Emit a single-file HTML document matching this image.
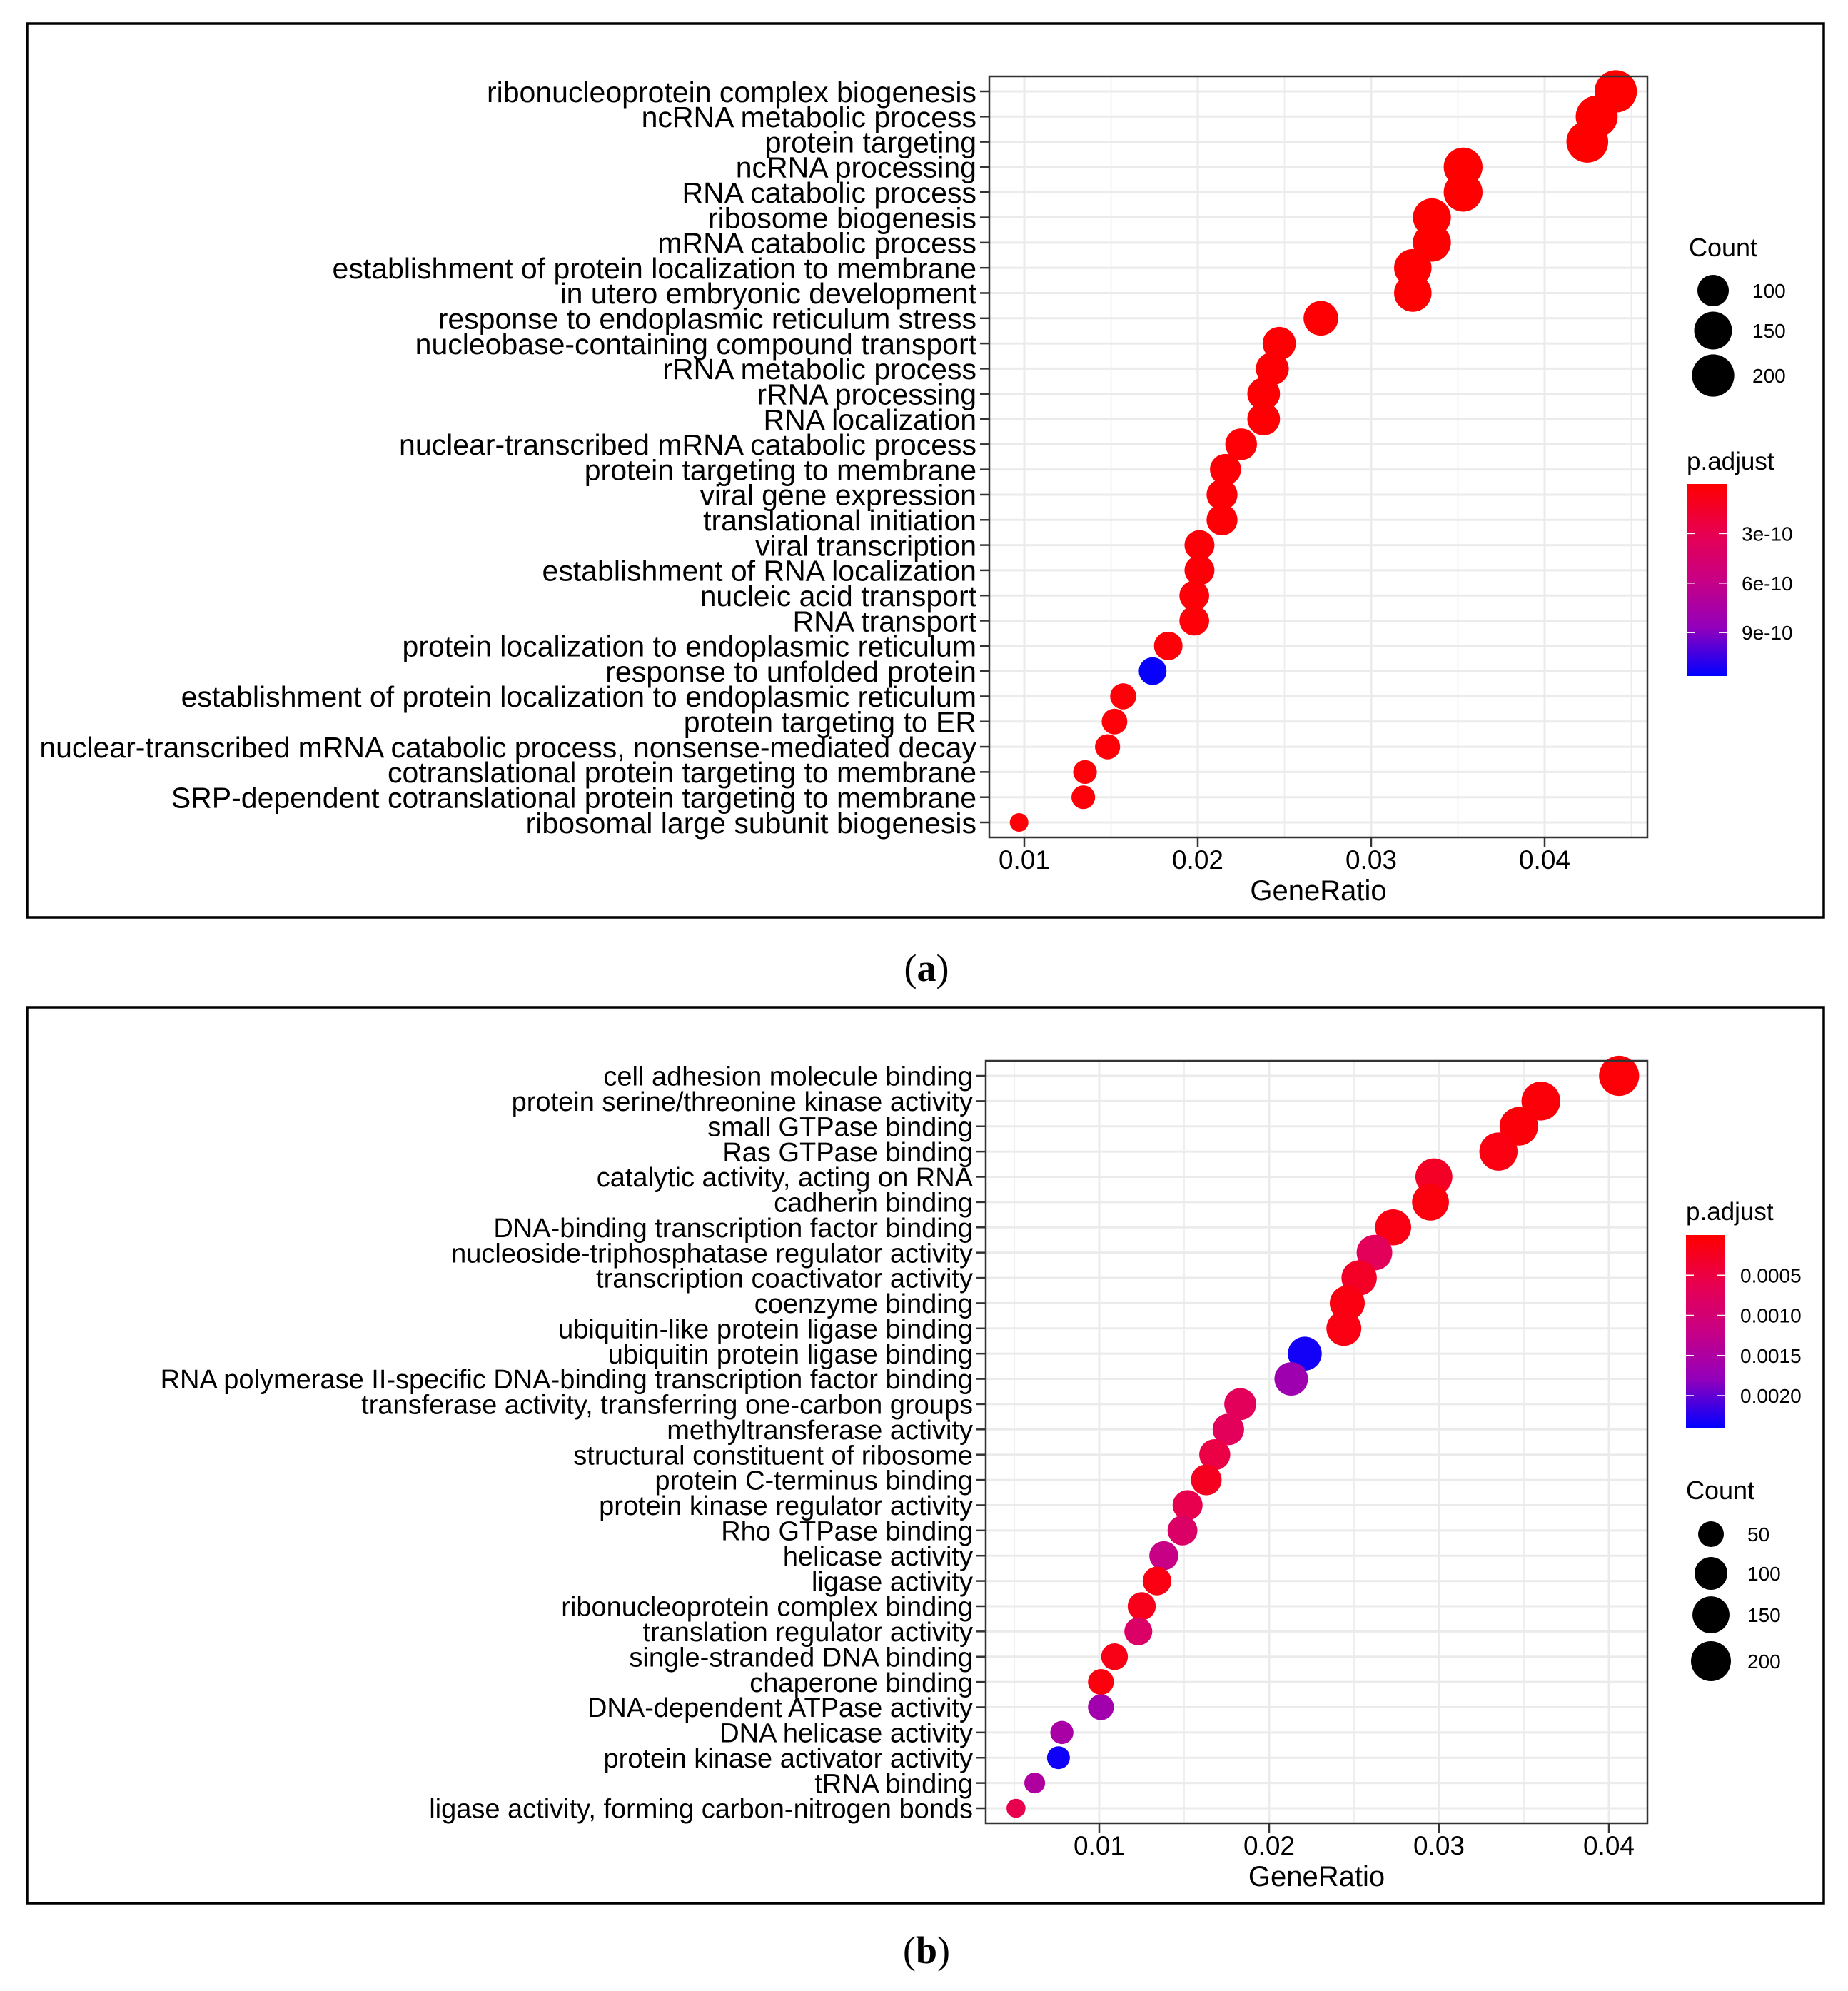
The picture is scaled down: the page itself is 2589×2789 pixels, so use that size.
<!DOCTYPE html>
<html><head><meta charset="utf-8"><style>
html,body{margin:0;padding:0;background:#fff;}
svg{display:block;font-family:"Liberation Sans",Arial,sans-serif;}
</style></head><body>
<svg id="fig" xmlns="http://www.w3.org/2000/svg" width="2589" height="2789" viewBox="0 0 2589 2789">
<rect x="0" y="0" width="2589" height="2789" fill="#fff"/>
<rect x="38" y="33" width="2517" height="1252" fill="none" stroke="#000" stroke-width="3.5"/>
<rect x="38" y="1411" width="2517" height="1255" fill="none" stroke="#000" stroke-width="3.5"/>
<text x="1298" y="1374" text-anchor="middle" font-family="Liberation Serif, serif" font-size="54">(<tspan font-weight="bold">a</tspan>)</text>
<text x="1298" y="2750" text-anchor="middle" font-family="Liberation Serif, serif" font-size="54">(<tspan font-weight="bold">b</tspan>)</text>
<g id="chartA"></g>
<g id="chartB"></g>
</svg>
<script>
// ---------- Panel A data ----------
const termsA = ["ribonucleoprotein complex biogenesis","ncRNA metabolic process","protein targeting","ncRNA processing","RNA catabolic process","ribosome biogenesis","mRNA catabolic process","establishment of protein localization to membrane","in utero embryonic development","response to endoplasmic reticulum stress","nucleobase-containing compound transport","rRNA metabolic process","rRNA processing","RNA localization","nuclear-transcribed mRNA catabolic process","protein targeting to membrane","viral gene expression","translational initiation","viral transcription","establishment of RNA localization","nucleic acid transport","RNA transport","protein localization to endoplasmic reticulum","response to unfolded protein","establishment of protein localization to endoplasmic reticulum","protein targeting to ER","nuclear-transcribed mRNA catabolic process, nonsense-mediated decay","cotranslational protein targeting to membrane","SRP-dependent cotranslational protein targeting to membrane","ribosomal large subunit biogenesis"];
const ratioA = [0.0441,0.0430,0.04246,0.0353,0.0353,0.0335,0.0335,0.0324,0.0324,0.0271,0.0247,0.0243,0.0238,0.0238,0.0225,0.0216,0.0214,0.0214,0.0201,0.0201,0.0198,0.0198,0.0183,0.0174,0.0157,0.0152,0.0148,0.0135,0.0134,0.0097];
const countA = [200,195,193,160,160,152,152,147,147,123,112,110,108,108,102,98,97,97,91,91,90,90,83,79,71,69,67,61,61,44];
const padjA = [1e-12,2e-12,3e-12,2e-12,3e-12,4e-12,5e-12,6e-12,8e-12,1e-11,1.2e-11,1.5e-11,1.5e-11,1.6e-11,1.8e-11,2e-11,2e-11,2e-11,2.5e-11,2.5e-11,3e-11,3e-11,3e-11,1.15e-9,3e-11,3e-11,3e-11,3e-11,3e-11,3e-11];
const xTicksA = [0.01,0.02,0.03,0.04];
const xMinorA = [0.015,0.025,0.035,0.045];
const xTickLabelsA = ["0.01","0.02","0.03","0.04"];
const sizeLegendA = [100,150,200];
const colorTicksA = [3e-10,6e-10,9e-10];
const colorTickLabelsA = ["3e-10","6e-10","9e-10"];

// ---------- Panel B data ----------
const termsB = ["cell adhesion molecule binding","protein serine/threonine kinase activity","small GTPase binding","Ras GTPase binding","catalytic activity, acting on RNA","cadherin binding","DNA-binding transcription factor binding","nucleoside-triphosphatase regulator activity","transcription coactivator activity","coenzyme binding","ubiquitin-like protein ligase binding","ubiquitin protein ligase binding","RNA polymerase II-specific DNA-binding transcription factor binding","transferase activity, transferring one-carbon groups","methyltransferase activity","structural constituent of ribosome","protein C-terminus binding","protein kinase regulator activity","Rho GTPase binding","helicase activity","ligase activity","ribonucleoprotein complex binding","translation regulator activity","single-stranded DNA binding","chaperone binding","DNA-dependent ATPase activity","DNA helicase activity","protein kinase activator activity","tRNA binding","ligase activity, forming carbon-nitrogen bonds"];
const ratioB = [0.0406,0.0360,0.0347,0.0335,0.0297,0.0295,0.0273,0.0262,0.0253,0.0246,0.0244,0.0221,0.0213,0.0183,0.0176,0.0168,0.0163,0.0152,0.0149,0.0138,0.0134,0.0125,0.0123,0.0109,0.0101,0.0101,0.0078,0.0076,0.0062,0.0051];
const countB = [203,180,174,168,149,148,137,131,127,123,122,111,107,92,88,84,82,76,75,69,67,63,62,55,51,51,39,38,31,26];
const padjB = [0.00005,0.00007,0.00007,0.00012,0.00029,0.0001,0.00014,0.00072,0.00029,0.00012,0.00014,0.00232,0.00167,0.00072,0.00072,0.00053,0.00024,0.0006,0.00084,0.0012,0.00014,0.00019,0.00084,0.00017,0.0001,0.00163,0.00155,0.00234,0.00148,0.0006];
const xTicksB = [0.01,0.02,0.03,0.04];
const xMinorB = [0.005,0.015,0.025,0.035];
const xTickLabelsB = ["0.01","0.02","0.03","0.04"];
const sizeLegendB = [50,100,150,200];
const colorTicksB = [0.0005,0.0010,0.0015,0.0020];
const colorTickLabelsB = ["0.0005","0.0010","0.0015","0.0020"];

const NS = "http://www.w3.org/2000/svg";
function mk(parent, tag, attrs, text){
  const e = document.createElementNS(NS, tag);
  for (const k in attrs) e.setAttribute(k, attrs[k]);
  if (text !== undefined) e.textContent = text;
  parent.appendChild(e);
  return e;
}
const stops = [[0,[255,0,0]],[0.25,[232,0,79]],[0.5,[200,0,133]],[0.75,[146,0,188]],[1,[0,0,255]]];
function colorAt(t){
  t = Math.max(0, Math.min(1, t));
  for (let i=0;i<stops.length-1;i++){
    const a=stops[i], b=stops[i+1];
    if (t<=b[0]){
      const f=(t-a[0])/(b[0]-a[0]);
      const c=a[1].map((v,j)=>Math.round(v+(b[1][j]-v)*f));
      return "rgb("+c.join(",")+")";
    }
  }
  return "rgb(0,0,255)";
}

function drawChart(g, cfg){
  const {terms, ratio, count, padj, xTicks, xMinor, xLabels, plot, xAt, sizeFn, pMax} = cfg;
  const n = terms.length;
  const step = (plot.b - plot.t - 42) / (n - 1);
  const yAt = i => plot.t + 21 + i * step;
  const xs = v => plot.l + (v - xAt.v0) * xAt.k;

  const bg = mk(g, "rect", {x:plot.l, y:plot.t, width:plot.r-plot.l, height:plot.b-plot.t, fill:"#fff"});
  
  

  xMinor.forEach(v => {
    const l = mk(g, "line", {x1:xs(v), x2:xs(v), y1:plot.t, y2:plot.b, stroke:"#ebebeb", "stroke-width":1.6});
    
    
  });
  xTicks.forEach(v => {
    const l = mk(g, "line", {x1:xs(v), x2:xs(v), y1:plot.t, y2:plot.b, stroke:"#ebebeb", "stroke-width":3});
    
    
  });
  terms.forEach((t, i) => {
    const l = mk(g, "line", {x1:plot.l, x2:plot.r, y1:yAt(i), y2:yAt(i), stroke:"#ebebeb", "stroke-width":3});
    
    
  });

  terms.forEach((t, i) => {
    const c = mk(g, "circle", {cx:xs(ratio[i]), cy:yAt(i), r:sizeFn(count[i]), fill:colorAt(padj[i]/pMax)});
    
    
  });

  const fr = mk(g, "rect", {x:plot.l, y:plot.t, width:plot.r-plot.l, height:plot.b-plot.t, fill:"none", stroke:"#333", "stroke-width":2.5});
  
  

  terms.forEach((t, i) => {
    const tk = mk(g, "line", {x1:plot.l-13, x2:plot.l, y1:yAt(i), y2:yAt(i), stroke:"#333", "stroke-width":2.5});
    
    
    const tx = mk(g, "text", {x:plot.l-18, y:yAt(i), dy:"0.36em", "text-anchor":"end", "font-size":cfg.yFont, fill:"#000"}, t);
    
    
  });
  xTicks.forEach((v, i) => {
    const tk = mk(g, "line", {x1:xs(v), x2:xs(v), y1:plot.b, y2:plot.b+13, stroke:"#333", "stroke-width":2.5});
    
    
    const tx = mk(g, "text", {x:xs(v), y:plot.b+44, "text-anchor":"middle", "font-size":37, fill:"#000"}, xLabels[i]);
    
    
  });
  const xt = mk(g, "text", {x:(plot.l+plot.r)/2, y:plot.b+88, "text-anchor":"middle", "font-size":40, fill:"#000"}, "GeneRatio");
  
  
}

function drawSizeLegend(g, cfg){
  const t = mk(g, "text", {x:cfg.x, y:cfg.titleY, "font-size":36, fill:"#000"}, "Count");
  
  
  cfg.values.forEach((v, i) => {
    const c = mk(g, "circle", {cx:cfg.cx, cy:cfg.ys[i], r:cfg.sizeFn(v), fill:"#000"});
    
    
    const tx = mk(g, "text", {x:cfg.labelX, y:cfg.ys[i], dy:"0.36em", "font-size":28, fill:"#000"}, String(v));
    
    
  });
}

function drawColorLegend(g, cfg, id){
  const t = mk(g, "text", {x:cfg.x, y:cfg.titleY, "font-size":35, fill:"#000"}, "p.adjust");
  
  
  const defs = mk(g, "defs", {});
  const lg = mk(defs, "linearGradient", {id:id, x1:0, y1:0, x2:0, y2:1});
  const tEnd = cfg.pBottom / cfg.pMax;
  for (let k=0;k<=20;k++){
    const f = k/20;
    mk(lg, "stop", {offset:f, "stop-color":colorAt(f*tEnd)});
  }
  const bar = mk(g, "rect", {x:cfg.x, y:cfg.top, width:cfg.w, height:cfg.bottom-cfg.top, fill:"url(#"+id+")"});
  
  
  const ys = v => cfg.top + (v / cfg.pBottom) * (cfg.bottom - cfg.top);
  cfg.ticks.forEach((v, i) => {
    const y = ys(v);
    const a = mk(g, "line", {x1:cfg.x, x2:cfg.x+11, y1:y, y2:y, stroke:"#fff", "stroke-width":1.5});
    
    
    const b = mk(g, "line", {x1:cfg.x+cfg.w-11, x2:cfg.x+cfg.w, y1:y, y2:y, stroke:"#fff", "stroke-width":1.5});
    
    
    const tx = mk(g, "text", {x:cfg.x+cfg.w+21, y:y, dy:"0.36em", "font-size":28, fill:"#000"}, cfg.labels[i]);
    
    
  });
}

const sizeA = c => 13 + 11 * Math.log(c / 44);
const sizeB = c => 18 + 7.21 * Math.log(c / 50);
const pMaxA = 1.163e-9, pMaxB = 0.0024;

const gA = document.getElementById("chartA");
drawChart(gA, {terms:termsA, ratio:ratioA, count:countA, padj:padjA, xTicks:xTicksA, xMinor:xMinorA, xLabels:xTickLabelsA,
  plot:{l:1386, r:2308, t:107, b:1173}, xAt:{v0:0.01 - 49/24300, k:24300}, sizeFn:sizeA, pMax:pMaxA, yFont:41});
drawSizeLegend(gA, {x:2366, titleY:359, cx:2400, ys:[407,463,526], labelX:2455, values:sizeLegendA, sizeFn:sizeA});
drawColorLegend(gA, {x:2363, titleY:658, top:678, bottom:947, w:56, pBottom:pMaxA, pMax:pMaxA, ticks:colorTicksA, labels:colorTickLabelsA}, "gradA");

const gB = document.getElementById("chartB");
drawChart(gB, {terms:termsB, ratio:ratioB, count:countB, padj:padjB, xTicks:xTicksB, xMinor:xMinorB, xLabels:xTickLabelsB,
  plot:{l:1381, r:2308, t:1486, b:2554}, xAt:{v0:0.01 - 159/23800, k:23800}, sizeFn:sizeB, pMax:pMaxB, yFont:38});
drawColorLegend(gB, {x:2362, titleY:1709, top:1730, bottom:2000, w:55, pBottom:pMaxB, pMax:pMaxB, ticks:colorTicksB, labels:colorTickLabelsB}, "gradB");
drawSizeLegend(gB, {x:2362, titleY:2100, cx:2397, ys:[2149,2204,2262,2327], labelX:2448, values:sizeLegendB, sizeFn:sizeB});
</script>
</body></html>
